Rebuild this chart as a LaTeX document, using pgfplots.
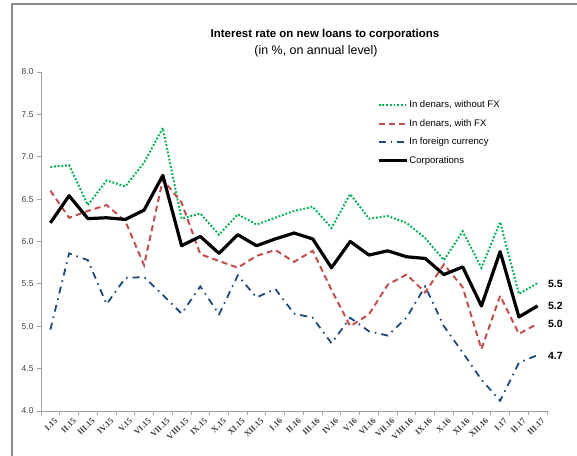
\documentclass[border=0pt]{standalone}
\usepackage{fontspec}
\setmainfont{Liberation Sans}
\newfontfamily\serifbf{Liberation Serif}
\usepackage{pgfplots}
\pgfplotsset{compat=1.18}
\definecolor{cgreen}{RGB}{0,176,80}
\definecolor{cred}{RGB}{192,80,77}
\definecolor{cblue}{RGB}{31,73,125}
\definecolor{caxis}{RGB}{160,160,160}
\definecolor{ctext}{RGB}{64,64,64}
\begin{document}
\begin{tikzpicture}[x=1bp,y=1bp]
\useasboundingbox (0,0) rectangle (577,456);
\draw[color=gray!90, line width=1.3bp] (12,0) -- (12,452) -- (577,452);
\begin{axis}[
  at={(41bp,45bp)}, anchor=south west,
  scale only axis, width=506bp, height=339bp,
  xmin=-0.5, xmax=26.5, ymin=4, ymax=8,
  axis lines*=left,
  axis line style={caxis, line width=0.8bp},
  clip=false,
  xtick={0,...,26},
  xticklabels={I.15,II.15,III.15,IV.15,V.15,VI.15,VII.15,VIII.15,IX.15,X.15,XI.15,XII.15,I.16,II.16,III.16,IV.16,V.16,VI.16,VII.16,VIII.16,IX.16,X.16,XI.16,XII.16,I.17,II.17,III.17},
  minor xtick={-0.5,0.5,...,26.5},
  major x tick style={draw=none},
  minor x tick style={caxis, line width=0.8bp},
  minor tick length=4bp,
  ytick={4,4.5,...,8},
  major y tick style={caxis, line width=0.8bp},
  major tick length=4bp,
  tick align=outside,
  xticklabel style={rotate=45, anchor=north east, font=\serifbf\fontsize{8.5}{9}\selectfont\bfseries, text=ctext, inner sep=1bp, yshift=-3bp, xshift=2bp},
  yticklabel style={font=\fontsize{8.5}{10}\selectfont, text=ctext, /pgf/number format/fixed, /pgf/number format/fixed zerofill, /pgf/number format/precision=1},
  /pgf/number format/assume math mode=true,
  legend style={draw=none, fill=none, at={(0.658,0.925)}, anchor=north west,
    font=\fontsize{9.6}{11}\selectfont, text=black,
    nodes={inner sep=1bp, text height=7bp, text depth=2bp}, row sep=7.5bp},
  legend cell align=left,
  legend image code/.code={\draw[#1] (0bp,0bp) -- (28bp,0bp);},
]
\addplot[cgreen, line width=2bp, dash pattern=on 1.8bp off 1.9bp] coordinates {
(0,6.88) (1,6.90) (2,6.43) (3,6.72) (4,6.65) (5,6.93) (6,7.34) (7,6.27) (8,6.33) (9,6.08) (10,6.32) (11,6.20) (12,6.28) (13,6.36) (14,6.41) (15,6.16) (16,6.56) (17,6.27) (18,6.30) (19,6.22) (20,6.04) (21,5.78) (22,6.12) (23,5.69) (24,6.23) (25,5.38) (26,5.51)};
\addlegendentry{In denars, without FX}
\addplot[cred, line width=2bp, dash pattern=on 6bp off 4bp] coordinates {
(0,6.60) (1,6.28) (2,6.36) (3,6.43) (4,6.24) (5,5.72) (6,6.73) (7,6.46) (8,5.85) (9,5.77) (10,5.69) (11,5.83) (12,5.90) (13,5.76) (14,5.89) (15,5.43) (16,5.00) (17,5.14) (18,5.49) (19,5.61) (20,5.40) (21,5.73) (22,5.46) (23,4.73) (24,5.36) (25,4.91) (26,5.03)};
\addlegendentry{In denars, with FX}
\addplot[cblue, line width=1.8bp, dash pattern=on 7bp off 5bp on 1.6bp off 5bp] coordinates {
(0,4.96) (1,5.86) (2,5.78) (3,5.26) (4,5.57) (5,5.58) (6,5.37) (7,5.15) (8,5.47) (9,5.14) (10,5.60) (11,5.34) (12,5.44) (13,5.15) (14,5.10) (15,4.80) (16,5.10) (17,4.94) (18,4.89) (19,5.10) (20,5.47) (21,5.00) (22,4.69) (23,4.37) (24,4.12) (25,4.57) (26,4.66)};
\addlegendentry{In foreign currency}
\addplot[black, line width=3.2bp, line join=round] coordinates {
(0,6.22) (1,6.54) (2,6.27) (3,6.28) (4,6.26) (5,6.37) (6,6.78) (7,5.95) (8,6.06) (9,5.86) (10,6.08) (11,5.95) (12,6.03) (13,6.10) (14,6.03) (15,5.69) (16,6.00) (17,5.84) (18,5.89) (19,5.82) (20,5.80) (21,5.61) (22,5.70) (23,5.24) (24,5.88) (25,5.11) (26,5.24)};
\addlegendentry{Corporations}
\node[anchor=west, font=\fontsize{10.5}{12}\selectfont\bfseries, inner sep=0pt] at (axis cs:26.55,5.50) {5.5};
\node[anchor=west, font=\fontsize{10.5}{12}\selectfont\bfseries, inner sep=0pt] at (axis cs:26.55,5.245) {5.2};
\node[anchor=west, font=\fontsize{10.5}{12}\selectfont\bfseries, inner sep=0pt] at (axis cs:26.55,5.03) {5.0};
\node[anchor=west, font=\fontsize{10.5}{12}\selectfont\bfseries, inner sep=0pt] at (axis cs:26.55,4.65) {4.7};
\end{axis}
\node[font=\fontsize{11.5}{13}\selectfont\bfseries] at (325,421) {Interest rate on new loans to corporations};
\node[font=\fontsize{12.5}{14}\selectfont] at (316,405) {(in \%, on annual level)};
\end{tikzpicture}
\end{document}
